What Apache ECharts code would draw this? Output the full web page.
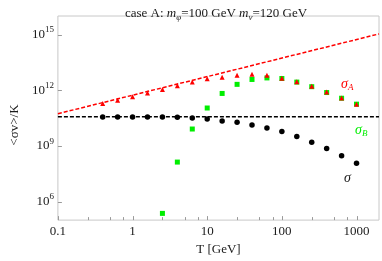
<!DOCTYPE html>
<html><head><meta charset="utf-8">
<script src="https://cdn.jsdelivr.net/npm/echarts@6/dist/echarts.min.js"></script>
<style>html,body{margin:0;padding:0;background:#fff}#c{width:382px;height:261px}</style>
</head><body><div id="c"></div>
<script>
// Temperatures T [GeV]
const T = [0.398, 0.631, 1, 1.585, 2.512, 3.981, 6.31, 10, 15.85, 25.12, 39.81, 63.1, 100, 158.5, 251.2, 398.1, 631, 1000];
// <sigma v>/K (black dots)
const sigma = [3.55e10, 3.55e10, 3.55e10, 3.55e10, 3.55e10, 3.5e10, 3.2e10, 2.8e10, 2.2e10, 1.85e10, 1.35e10, 9.1e9, 5.9e9, 3.2e9, 1.55e9, 7.2e8, 2.95e8, 1.17e8];
// sigma_A (red triangles)
const sigmaA = [1.93e11, 2.87e11, 4.49e11, 7.0e11, 1.08e12, 1.75e12, 2.74e12, 4.17e12, 5.0e12, 6.4e12, 7.2e12, 6.4e12, 4.44e12, 2.84e12, 1.63e12, 7.9e11, 3.84e11, 1.77e11];
// sigma_B (green squares)
const sigmaB = [null, null, null, null, 2.3e5, 1.34e8, 8.1e9, 1.1e11, 6.7e11, 2.07e12, 3.8e12, 4.6e12, 4.27e12, 2.74e12, 1.55e12, 7.5e11, 3.7e11, 1.77e11];
// reference lines
const lineA = [[0.1, 5.4e10], [2000, 1.08e15]];
const lineEq = [[0.1, 3.75e10], [2000, 3.75e10]];
// axis ticks / labels
const xTickLabels = ['0.1', '1', '10', '100', '1000'];
const xMajorTicks = [0.1, 1, 10, 100, 1000];
const xMinorTicks = [0.25, 0.5, 0.75, 2.5, 5, 7.5, 25, 50, 75, 250, 500, 750];
const yMajorTicks = [1e6, 1e9, 1e12, 1e15];
const yLabelExponents = [6, 9, 12, 15];

const SERIF = '"Liberation Serif", "DejaVu Serif", serif';
const TXT = '#1a1a1a';
const TICK = '#9a9a9a';

const chart = echarts.init(document.getElementById('c'), null, {renderer: 'canvas'});

function pairs(ys) {
  const out = [];
  ys.forEach((v, i) => { if (v != null) out.push([T[i], v]); });
  return out;
}

function xTickSeries(vals, len) {
  return {
    type: 'custom', xAxisIndex: 0, yAxisIndex: 0, silent: true, clip: false, z: 1,
    data: vals.map(v => [v, 1e5]),
    renderItem(params, api) {
      const p = api.coord([api.value(0), api.value(1)]);
      const x = Math.round(p[0]) + 0.5;
      return {type: 'line', shape: {x1: x, y1: p[1], x2: x, y2: p[1] - len}, style: {stroke: TICK, lineWidth: 1}};
    }
  };
}

const option = {
  backgroundColor: '#fff',
  animation: false,
  title: {
    text: '{n|case A: }{i|m}{sub|φ}{n|=100 GeV }{i|m}{sub|ν}{n|=120 GeV}',
    left: 120, top: 0,
    textStyle: {
      fontWeight: 'normal',
      rich: {
        n: {fontFamily: SERIF, fontSize: 13, fontWeight: 'normal', color: TXT, lineHeight: 17},
        i: {fontFamily: SERIF, fontSize: 13, fontWeight: 'normal', fontStyle: 'italic', color: TXT, lineHeight: 17},
        sub: {fontFamily: SERIF, fontSize: 9, fontWeight: 'normal', fontStyle: 'italic', color: TXT, lineHeight: 9, verticalAlign: 'bottom'}
      }
    }
  },
  grid: {left: 43, right: 1, top: 16, bottom: 35, show: true, borderColor: '#c8c8c8', borderWidth: 1, backgroundColor: 'transparent'},
  xAxis: {
    type: 'log', logBase: 10, min: 0.1, max: 2000,
    axisLine: {show: false}, axisTick: {show: false}, splitLine: {show: false}, minorTick: {show: false},
    axisLabel: {
      fontFamily: SERIF, fontSize: 13, color: TXT, margin: 5,
      formatter: v => {
        const l = Math.log10(v), e = Math.round(l);
        if (Math.abs(l - e) > 1e-6 || e < -1 || e > 3) return '';
        return xTickLabels[e + 1];
      }
    },
    name: 'T [GeV]', nameLocation: 'middle', nameGap: 19,
    nameTextStyle: {fontFamily: SERIF, fontSize: 13, color: TXT}
  },
  yAxis: [{
    type: 'log', logBase: 10, min: 1e5, max: 1e16,
    axisLine: {show: false}, axisTick: {show: false}, splitLine: {show: false}, axisLabel: {show: false}
  }, {
    type: 'value', min: 5, max: 16, interval: 1, position: 'left',
    axisLine: {show: false}, axisTick: {show: false}, splitLine: {show: false},
    axisLabel: {
      margin: 4,
      formatter: v => yLabelExponents.indexOf(v) >= 0 ? '{b|10}{s|' + v + '}' : '',
      rich: {
        b: {fontFamily: SERIF, fontSize: 13, color: TXT, lineHeight: 18},
        s: {fontFamily: SERIF, fontSize: 9, color: TXT, lineHeight: 9, verticalAlign: 'top'}
      }
    },
    name: '<σv>/K', nameLocation: 'middle', nameGap: 34, nameRotate: 90,
    nameTextStyle: {fontFamily: SERIF, fontSize: 13, color: TXT, padding: [0, 14, 0, 0]}
  }],
  series: [
    {type: 'line', data: lineEq, xAxisIndex: 0, yAxisIndex: 0, symbol: 'none', silent: true, z: 2,
     lineStyle: {color: '#000', width: 1.4, type: [4, 2]}},
    {type: 'scatter', data: pairs(sigmaB), xAxisIndex: 0, yAxisIndex: 0, symbol: 'rect', symbolSize: 5, z: 3,
     itemStyle: {color: '#00ee00', opacity: 1}},
    {type: 'scatter', data: pairs(sigmaA), xAxisIndex: 0, yAxisIndex: 0, symbol: 'triangle', symbolSize: 5, z: 4,
     itemStyle: {color: '#ff0000', opacity: 1}},
    {type: 'line', data: lineA, xAxisIndex: 0, yAxisIndex: 0, symbol: 'none', silent: true, z: 5,
     lineStyle: {color: '#ff0000', width: 1.5, type: [4, 2]}},
    {type: 'scatter', data: pairs(sigma), xAxisIndex: 0, yAxisIndex: 0, symbol: 'circle', symbolSize: 5.5, z: 4,
     itemStyle: {color: '#000', opacity: 1}},
    xTickSeries(xMajorTicks, 4),
    xTickSeries(xMinorTicks, 3),
    {
      type: 'custom', xAxisIndex: 0, yAxisIndex: 0, silent: true, clip: false, z: 1,
      data: yMajorTicks.map(v => [0.1, v]),
      renderItem(params, api) {
        const p = api.coord([api.value(0), api.value(1)]);
        const y = Math.round(p[1]) + 0.5;
        return {type: 'line', shape: {x1: p[0], y1: y, x2: p[0] + 4, y2: y}, style: {stroke: TICK, lineWidth: 1}};
      }
    }
  ],
  graphic: [
    {type: 'text', x: 341, y: 84, silent: true, style: {
      text: '{g|σ}{s|A}', verticalAlign: 'middle',
      rich: {
        g: {fontFamily: SERIF, fontSize: 14, fontStyle: 'italic', fill: '#ff0000', lineHeight: 16},
        s: {fontFamily: SERIF, fontSize: 9, fontStyle: 'italic', fill: '#ff0000', lineHeight: 9, verticalAlign: 'bottom'}
      }}},
    {type: 'text', x: 355, y: 130, silent: true, style: {
      text: '{g|σ}{s|B}', verticalAlign: 'middle',
      rich: {
        g: {fontFamily: SERIF, fontSize: 14, fontStyle: 'italic', fill: '#00ee00', lineHeight: 16},
        s: {fontFamily: SERIF, fontSize: 9, fontStyle: 'italic', fill: '#00ee00', lineHeight: 9, verticalAlign: 'bottom'}
      }}},
    {type: 'text', x: 344, y: 178, silent: true, style: {
      text: 'σ', verticalAlign: 'middle',
      fontFamily: SERIF, fontSize: 14, fontStyle: 'italic', fill: '#1a1a1a'}}
  ]
};
chart.setOption(option);
</script>
</body></html>
